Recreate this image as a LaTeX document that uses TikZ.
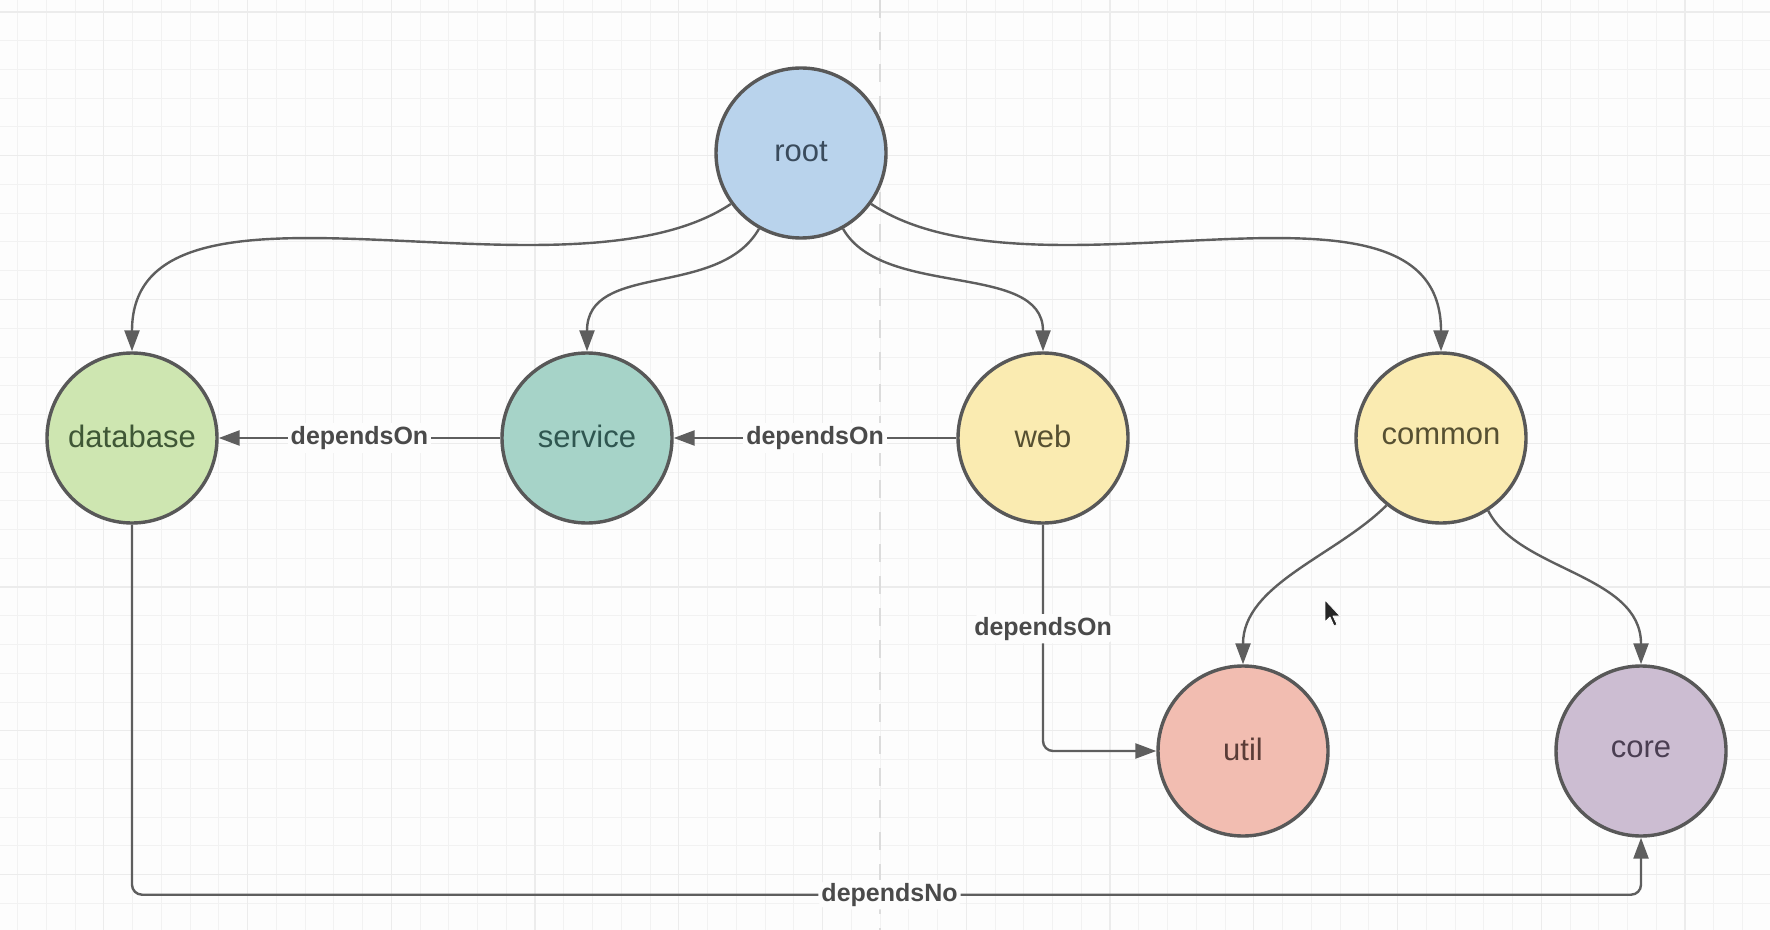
\documentclass[tikz,border=0pt]{standalone}
\usepackage{fontspec}
\setmainfont{Liberation Sans}
\usetikzlibrary{arrows.meta,calc}

\definecolor{bgcol}{HTML}{FDFDFD}
\definecolor{gridminor}{HTML}{F2F2F2}
\definecolor{gridmajor}{HTML}{ECECEC}
\definecolor{pagecol}{HTML}{DCDCDC}
\definecolor{bordercol}{HTML}{585858}
\definecolor{linecol}{HTML}{5E5E5E}
\definecolor{lblcol}{HTML}{4A4A4A}
\definecolor{cRoot}{HTML}{B9D3EC}
\definecolor{cDb}{HTML}{CEE6B1}
\definecolor{cSrv}{HTML}{A6D3C8}
\definecolor{cWeb}{HTML}{FAEBB1}
\definecolor{cUtil}{HTML}{F2BDB1}
\definecolor{cCore}{HTML}{CCBDD2}
\definecolor{tRoot}{HTML}{3A4B5C}
\definecolor{tDb}{HTML}{3F5736}
\definecolor{tSrv}{HTML}{2F5650}
\definecolor{tWeb}{HTML}{565032}
\definecolor{tUtil}{HTML}{5A3C37}
\definecolor{tCore}{HTML}{4A3E52}

\newcommand{\modtext}[1]{\raisebox{1.5pt}{#1}}

\begin{document}
\begin{tikzpicture}[x=0.5pt,y=-0.5pt,
  mod/.style={circle, draw=bordercol, line width=1.7pt, minimum size=85pt, inner sep=0pt,
    font=\fontsize{15.5pt}{18pt}\selectfont},
  edge/.style={draw=linecol, line width=1.2pt, -{Triangle[length=10.5pt,width=7.5pt]}},
  lbl/.style={fill=bgcol, text=lblcol, inner sep=1.5pt,
    font=\bfseries\fontsize{12.5pt}{14pt}\selectfont},
  gminor/.style={draw=gridminor, line width=0.5pt},
  gmajor/.style={draw=gridmajor, line width=0.7pt}]

\useasboundingbox (0,0) rectangle (1770,930);
\fill[bgcol] (0,0) rectangle (1770,930);

% grid
\foreach \i in {0,...,61} \draw[gminor] ({17.5+28.75*\i},0) -- ({17.5+28.75*\i},930);
\foreach \j in {0,...,32} \draw[gminor] (0,{12+28.75*\j}) -- (1770,{12+28.75*\j});
\foreach \i in {3,8,...,58} \draw[gmajor] ({17.5+28.75*\i},0) -- ({17.5+28.75*\i},930);
\foreach \j in {0,5,...,30} \draw[gmajor] (0,{12+28.75*\j}) -- (1770,{12+28.75*\j});
\draw[pagecol, line width=0.8pt, dash pattern=on 9pt off 7pt] (880,0) -- (880,930);

% modules
\node[mod, fill=cRoot, text=tRoot] (root) at (801,153) {\modtext{root}};
\node[mod, fill=cDb, text=tDb] (database) at (132,438) {\modtext{database}};
\node[mod, fill=cSrv, text=tSrv] (service) at (587,438) {\modtext{service}};
\node[mod, fill=cWeb, text=tWeb] (web) at (1043,438) {\modtext{web}};
\node[mod, fill=cWeb, text=tWeb] (common) at (1441,438) {\modtext{common}};
\node[mod, fill=cUtil, text=tUtil] (util) at (1243,751) {\modtext{util}};
\node[mod, fill=cCore, text=tCore] (core) at (1641,751) {\modtext{core}};

% curved edges from root and common
\draw[edge] (root.216) .. controls ($(root.216)+(-165,110)$) and ($(database.north)+(0,-205)$) .. (database.north);
\draw[edge] (root.241) .. controls ($(root.241)+(-40,70)$) and ($(service.north)+(0,-90)$) .. (service.north);
\draw[edge] (root.299) .. controls ($(root.299)+(40,70)$) and ($(web.north)+(0,-90)$) .. (web.north);
\draw[edge] (root.324) .. controls ($(root.324)+(165,110)$) and ($(common.north)+(0,-205)$) .. (common.north);
\draw[edge] (common.231) .. controls ($(common.231)+(-50,50)$) and ($(util.north)+(0,-80)$) .. (util.north);
\draw[edge] (common.303) .. controls ($(common.303)+(30,60)$) and ($(core.north)+(0,-90)$) .. (core.north);

% dependency edges
\draw[edge] (service) -- node[lbl] (l1) {dependsOn} (database);
\draw[edge] (web) -- node[lbl] (l2) {dependsOn} (service);
\draw[edge, rounded corners=5pt] (web.south) |- node[lbl, pos=0.23] (l3) {dependsOn} (util.west);
\draw[edge, rounded corners=5pt] (database.south) -- ++(0,370) -| node[lbl, pos=0.251] (l4) {dependsNo} (core.south);

% mouse pointer
\begin{scope}[shift={(1325,600)}]
\filldraw[fill=black!85, draw=white, line width=0.4pt, line join=round]
  (0,0) -- (0,22) -- (5,17) -- (9,26) -- (12,24.5) -- (8,16) -- (15,16) -- cycle;
\end{scope}
\end{tikzpicture}
\end{document}
